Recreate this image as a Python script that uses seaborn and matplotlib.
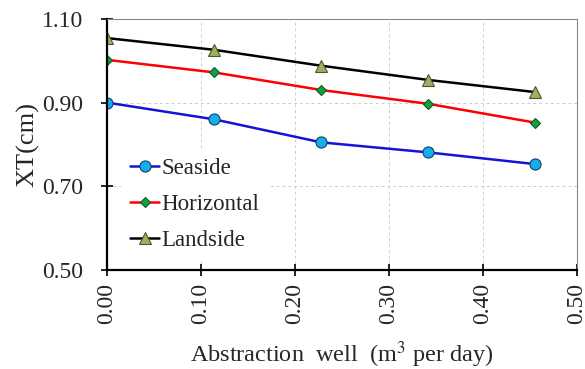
import matplotlib
matplotlib.use("Agg")
import matplotlib.pyplot as plt
import seaborn as sns
import pandas as pd

# Abstraction rate (m3 per day) and XT (cm) for each well position
abstraction = [0.0, 0.114, 0.228, 0.342, 0.456]
seaside = [0.900, 0.860, 0.805, 0.781, 0.753]
horizontal = [1.002, 0.972, 0.930, 0.897, 0.852]
landside = [1.054, 1.026, 0.988, 0.954, 0.925]
series_names = ["Seaside", "Horizontal", "Landside"]
x_ticks = [0.0, 0.1, 0.2, 0.3, 0.4, 0.5]
y_ticks = [0.5, 0.7, 0.9, 1.1]

sns.set_theme(style="white")
plt.rcParams["font.family"] = ["Liberation Serif", "DejaVu Serif"]
plt.rcParams["mathtext.fontset"] = "stix"

df = pd.DataFrame({
    "abstraction": abstraction * 3,
    "xt": seaside + horizontal + landside,
    "series": sum([[n] * len(abstraction) for n in series_names], []),
})

styles = {
    "Seaside": dict(color="#1414D8", marker="o", markersize=8,
                    markerfacecolor="#12B0EA", markeredgecolor="#1a3a6a"),
    "Horizontal": dict(color="#FF0000", marker="D", markersize=5.5,
                       markerfacecolor="#10A040", markeredgecolor="#0a5a2a"),
    "Landside": dict(color="#000000", marker="^", markersize=8.5,
                     markerfacecolor="#9BB060", markeredgecolor="#4a5a2a"),
}

fig = plt.figure(figsize=(5.85, 3.69), dpi=100)
ax = fig.add_axes([0.183, 0.268, 0.803, 0.681])

for name in series_names:
    sub = df[df["series"] == name]
    sns.lineplot(data=sub, x="abstraction", y="xt", ax=ax, label=name,
                 linewidth=1.8, markeredgewidth=0.8, **styles[name])

ax.set_xlim(0, 0.5)
ax.set_ylim(0.5, 1.1)
ax.set_xticks(x_ticks)
ax.set_yticks(y_ticks)
ax.set_xticklabels([f"{v:.2f}" for v in x_ticks], rotation=90, fontsize=17)
ax.set_yticklabels([f"{v:.2f}" for v in y_ticks], fontsize=17)
ax.set_xlabel("Abstraction  well  (m$^3$ per day)", fontsize=17.5, labelpad=11)
ax.set_ylabel("XT(cm)", fontsize=19, labelpad=2)

ax.grid(True, color="#cccccc", linestyle=(0, (3, 3)), linewidth=0.7)
ax.set_axisbelow(True)

for side in ["left", "bottom"]:
    ax.spines[side].set_color("black")
    ax.spines[side].set_linewidth(1.6)
for side in ["right", "top"]:
    ax.spines[side].set_color("#888888")
    ax.spines[side].set_linewidth(0.8)

ax.tick_params(axis="both", direction="inout", length=8, width=1.2,
               color="black")
ax.tick_params(axis="x", bottom=True, pad=5)
ax.tick_params(axis="y", left=True, pad=13)

leg = ax.legend(loc="lower left", bbox_to_anchor=(0.02, 0.02), frameon=True,
                framealpha=1, edgecolor="white", fontsize=16.5,
                handlelength=1.25, handletextpad=0.1, labelspacing=0.65,
                borderaxespad=0.2)
leg.get_frame().set_linewidth(0)

fig.savefig("out.png", dpi=100)
